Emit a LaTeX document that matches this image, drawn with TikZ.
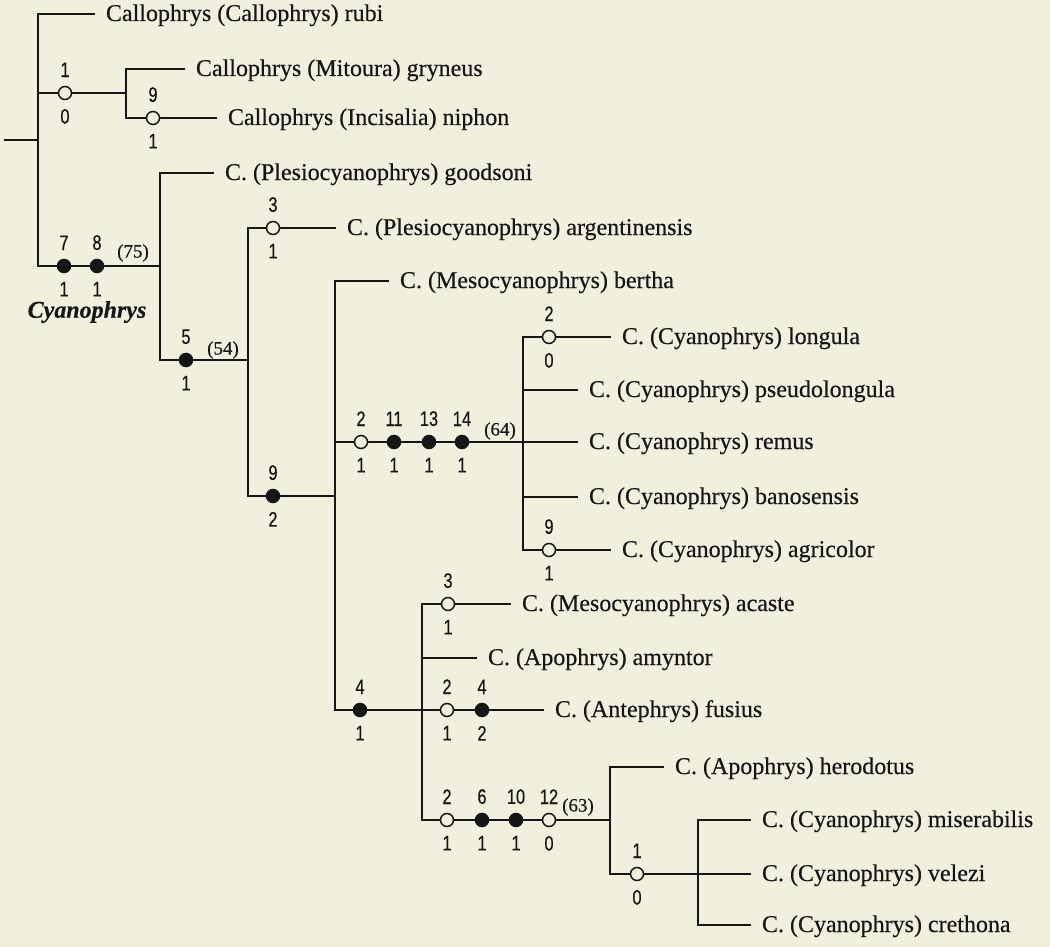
\documentclass[tikz,border=0pt]{standalone}
\usepackage{fontspec}
\setmainfont[FakeBold=0.4]{Liberation Serif}
\newfontfamily\statefont[FakeStretch=0.78,FakeBold=0.4]{Liberation Sans}
\usepackage{xcolor}
\definecolor{paper}{HTML}{F1EFDE}
\definecolor{ink}{HTML}{161616}
\tikzset{
  branch/.style={draw=ink,line width=1.5pt,line cap=rect},
  taxon/.style={font=\fontsize{24}{28}\selectfont,text=ink,anchor=west,inner xsep=12pt,inner ysep=0pt,outer sep=0pt,text height=14pt,text depth=0pt},
  homoplasy/.style={circle,draw=ink,fill=paper,line width=1.5pt,minimum size=13pt,inner sep=0pt},
  unique/.style={circle,draw=ink,fill=ink,line width=1.5pt,minimum size=13pt,inner sep=0pt},
  support/.style={font=\fontsize{19}{22}\selectfont,text=ink,inner sep=0pt},
  cladename/.style={font=\fontsize{24}{28}\selectfont\bfseries\itshape,text=ink,inner sep=0pt}
}

\begin{document}
\begin{tikzpicture}[x=1pt,y=-1pt,label distance=8.5pt,
  every label/.style={font=\statefont\fontsize{21}{22}\selectfont,text=ink,inner sep=0pt}]
\fill[paper] (0,0) rectangle (1050,947);

% internal vertices
\coordinate (stem) at (5,140);
\coordinate (callo) at (38,140);
\coordinate (mitoura) at (126,93);
\coordinate (cyano) at (160,266);
\coordinate (core) at (248,360);
\coordinate (meso) at (335,496);
\coordinate (cyanoph) at (523,442);
\coordinate (apo) at (422,710);
\coordinate (crown) at (610,820);
\coordinate (miser) at (698,874);

% terminal taxa
\node[taxon] (rubi) at (94,14) {Callophrys (Callophrys) rubi};
\node[taxon] (gryneus) at (184,69) {Callophrys (Mitoura) gryneus};
\node[taxon] (niphon) at (216,118) {Callophrys (Incisalia) niphon};
\node[taxon] (goodsoni) at (213,173) {C. (Plesiocyanophrys) goodsoni};
\node[taxon] (argentinensis) at (335,228) {C. (Plesiocyanophrys) argentinensis};
\node[taxon] (bertha) at (388,281) {C. (Mesocyanophrys) bertha};
\node[taxon] (longula) at (610,337) {C. (Cyanophrys) longula};
\node[taxon] (pseudolongula) at (577,390) {C. (Cyanophrys) pseudolongula};
\node[taxon] (remus) at (577,442) {C. (Cyanophrys) remus};
\node[taxon] (banosensis) at (577,497) {C. (Cyanophrys) banosensis};
\node[taxon] (agricolor) at (610,550) {C. (Cyanophrys) agricolor};
\node[taxon] (acaste) at (510,604) {C. (Mesocyanophrys) acaste};
\node[taxon] (amyntor) at (476,658) {C. (Apophrys) amyntor};
\node[taxon] (fusius) at (543,710) {C. (Antephrys) fusius};
\node[taxon] (herodotus) at (663,767) {C. (Apophrys) herodotus};
\node[taxon] (miserabilis) at (750,820) {C. (Cyanophrys) miserabilis};
\node[taxon] (velezi) at (750,874) {C. (Cyanophrys) velezi};
\node[taxon] (crethona) at (750,925) {C. (Cyanophrys) crethona};

% character changes
\node[homoplasy,label=above:1,label=below:0] (h1a) at (65,93) {};
\node[homoplasy,label=above:9,label=below:1] (h9a) at (153,118) {};
\node[unique,label=above:7,label=below:1] (u7) at (64,266) {};
\node[unique,label=above:8,label=below:1] (u8) at (97,266) {};
\node[unique,label=above:5,label=below:1] (u5) at (186,360) {};
\node[homoplasy,label=above:3,label=below:1] (h3a) at (273,228) {};
\node[unique,label=above:9,label=below:2] (u9) at (273,496) {};
\node[homoplasy,label=above:2,label=below:1] (h2a) at (361,442) {};
\node[unique,label=above:11,label=below:1] (u11) at (394,442) {};
\node[unique,label=above:13,label=below:1] (u13) at (429,442) {};
\node[unique,label=above:14,label=below:1] (u14) at (462,442) {};
\node[homoplasy,label=above:2,label=below:0] (h2b) at (549,337) {};
\node[homoplasy,label=above:9,label=below:1] (h9c) at (549,550) {};
\node[unique,label=above:4,label=below:1] (u4a) at (360,710) {};
\node[homoplasy,label=above:3,label=below:1] (h3b) at (448,604) {};
\node[homoplasy,label=above:2,label=below:1] (h2c) at (447,710) {};
\node[unique,label=above:4,label=below:2] (u4b) at (482,710) {};
\node[homoplasy,label=above:2,label=below:1] (h2d) at (447,820) {};
\node[unique,label=above:6,label=below:1] (u6) at (482,820) {};
\node[unique,label=above:10,label=below:1] (u10) at (516,820) {};
\node[homoplasy,label=above:12,label=below:0] (h12) at (549,820) {};
\node[homoplasy,label=above:1,label=below:0] (h1b) at (637,874) {};

% bootstrap values and clade name
\node[support] (bs75) at (133,253) {(75)};
\node[support] (bs54) at (223,350) {(54)};
\node[support] (bs64) at (500,431) {(64)};
\node[support] (bs63) at (578,807) {(63)};
\node[cladename] (cyname) at (87,312) {Cyanophrys};

% branches
\draw[branch] (stem) -- (callo);
\draw[branch] (callo) |- (rubi);
\draw[branch] (callo) |- (h1a);
\draw[branch] (h1a) -- (mitoura);
\draw[branch] (mitoura) |- (gryneus);
\draw[branch] (mitoura) |- (h9a);
\draw[branch] (h9a) -- (niphon);
\draw[branch] (callo) |- (u7);
\draw[branch] (u7) -- (u8);
\draw[branch] (u8) -- (cyano);
\draw[branch] (cyano) |- (goodsoni);
\draw[branch] (cyano) |- (u5);
\draw[branch] (u5) -- (core);
\draw[branch] (core) |- (h3a);
\draw[branch] (h3a) -- (argentinensis);
\draw[branch] (core) |- (u9);
\draw[branch] (u9) -- (meso);
\draw[branch] (meso) |- (bertha);
\draw[branch] (meso) |- (h2a);
\draw[branch] (h2a) -- (u11);
\draw[branch] (u11) -- (u13);
\draw[branch] (u13) -- (u14);
\draw[branch] (u14) -- (cyanoph);
\draw[branch] (cyanoph) |- (h2b);
\draw[branch] (h2b) -- (longula);
\draw[branch] (cyanoph) |- (pseudolongula);
\draw[branch] (cyanoph) -- (remus);
\draw[branch] (cyanoph) |- (banosensis);
\draw[branch] (cyanoph) |- (h9c);
\draw[branch] (h9c) -- (agricolor);
\draw[branch] (meso) |- (u4a);
\draw[branch] (u4a) -- (apo);
\draw[branch] (apo) |- (h3b);
\draw[branch] (h3b) -- (acaste);
\draw[branch] (apo) |- (amyntor);
\draw[branch] (apo) -- (h2c);
\draw[branch] (h2c) -- (u4b);
\draw[branch] (u4b) -- (fusius);
\draw[branch] (apo) |- (h2d);
\draw[branch] (h2d) -- (u6);
\draw[branch] (u6) -- (u10);
\draw[branch] (u10) -- (h12);
\draw[branch] (h12) -- (crown);
\draw[branch] (crown) |- (herodotus);
\draw[branch] (crown) |- (h1b);
\draw[branch] (h1b) -- (miser);
\draw[branch] (miser) |- (miserabilis);
\draw[branch] (miser) -- (velezi);
\draw[branch] (miser) |- (crethona);
\end{tikzpicture}
\end{document}
